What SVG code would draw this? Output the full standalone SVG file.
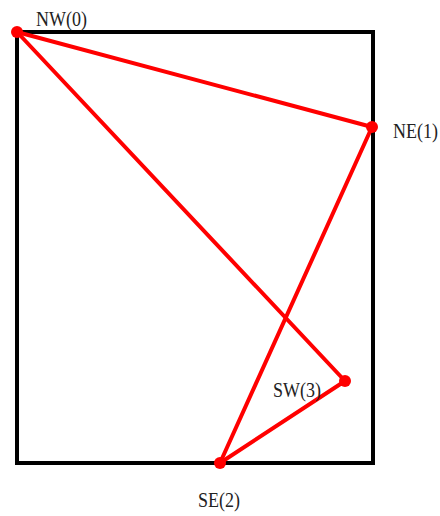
<svg xmlns="http://www.w3.org/2000/svg" width="440" height="516" viewBox="0 0 440 516">
<style>
.lbl{font-family:"Liberation Serif","Times New Roman",serif;font-size:18px;fill:#222}
.edge{stroke:#ff0000;stroke-width:4;fill:none;stroke-linecap:round}
.pt{fill:#ff0000}
</style>
<rect x="0" y="0" width="440" height="516" fill="#ffffff"/>
<rect id="frame" x="17" y="32" width="356" height="431" fill="none" stroke="#000" stroke-width="4"/>
<g id="connectors">
<line class="edge" x1="17" y1="32" x2="372" y2="127"/>
<line class="edge" x1="372" y1="127" x2="220" y2="463"/>
<line class="edge" x1="220" y1="463" x2="345" y2="381"/>
<line class="edge" x1="345" y1="381" x2="17" y2="32"/>
</g>
<g id="nw"><circle class="pt" cx="17" cy="32" r="6"/><text class="lbl" transform="translate(36 26) scale(1 1.12)">NW(0)</text></g>
<g id="ne"><circle class="pt" cx="372" cy="127" r="6"/><text class="lbl" transform="translate(393 138) scale(1 1.12)">NE(1)</text></g>
<g id="se"><circle class="pt" cx="220" cy="463" r="6"/><text class="lbl" transform="translate(198 507) scale(1 1.12)">SE(2)</text></g>
<g id="sw"><circle class="pt" cx="345" cy="381" r="6"/><text class="lbl" transform="translate(273 397) scale(1 1.12)">SW(3)</text></g>
</svg>
